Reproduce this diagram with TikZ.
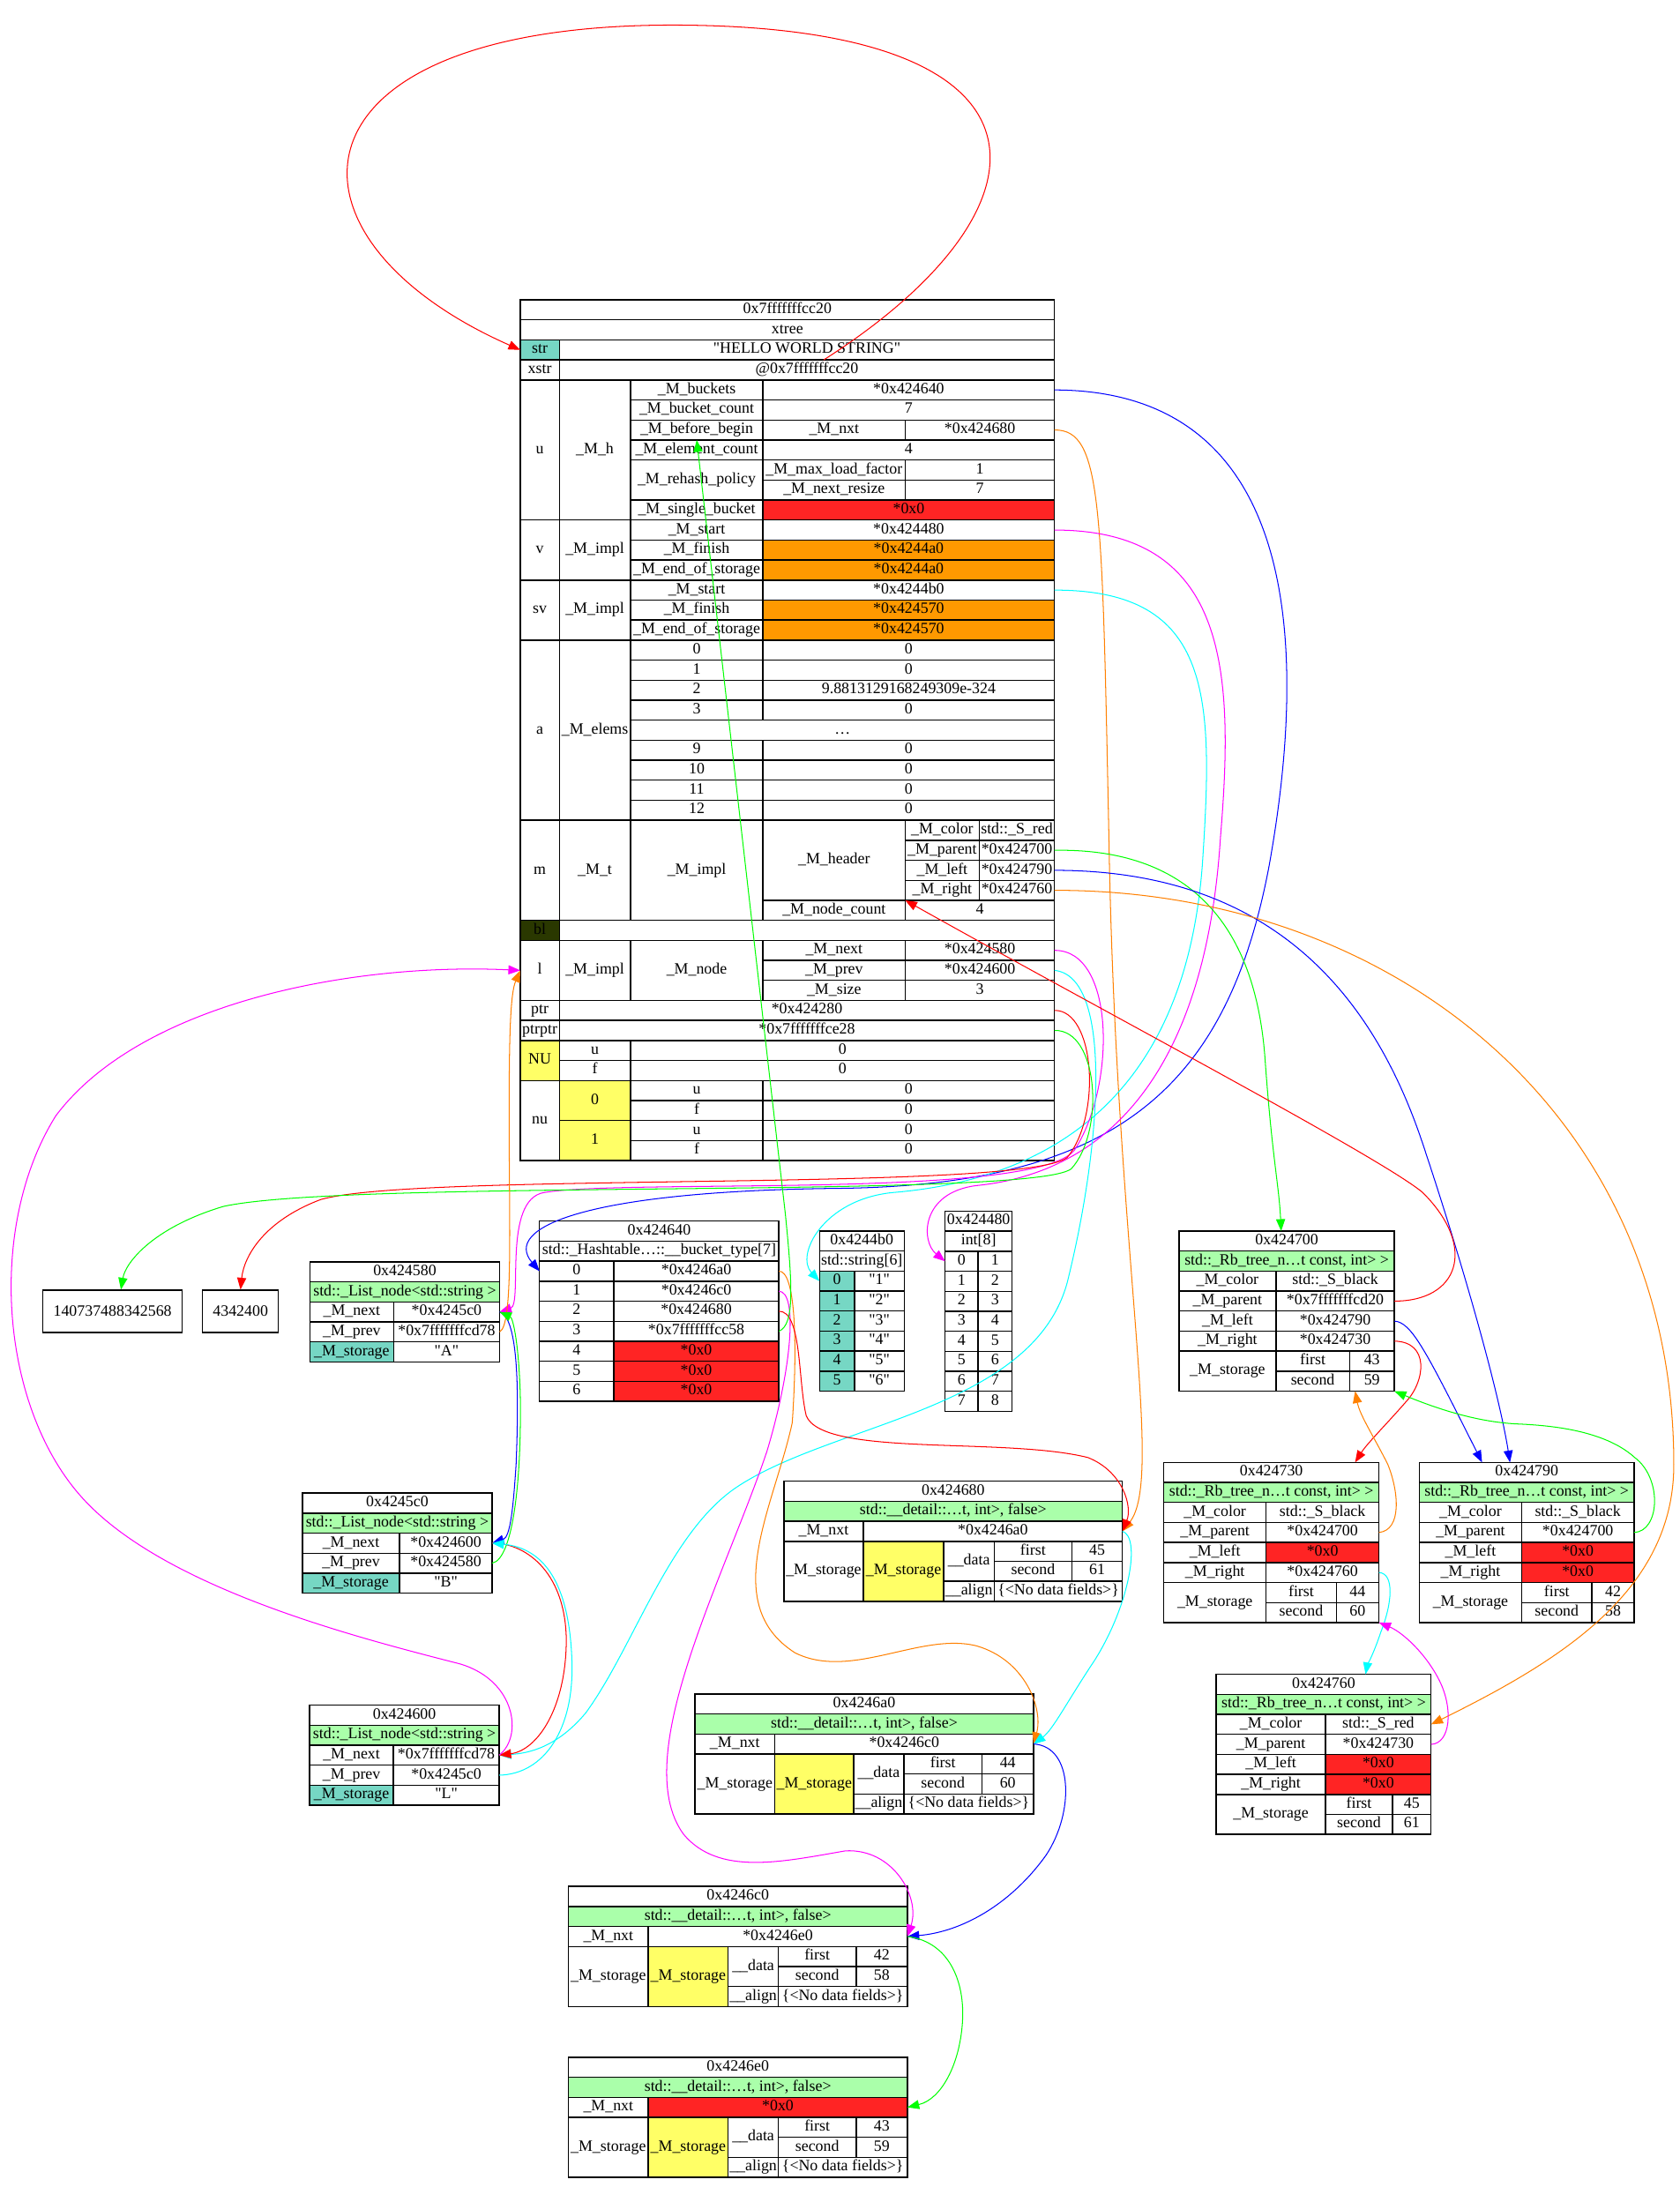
\documentclass[tikz,border=0pt]{standalone}
\usepackage{fontspec}
\setmainfont{Liberation Serif}[Ligatures=TeXOff]
\usetikzlibrary{arrows.meta}

\definecolor{keyteal}{RGB}{118,215,196}
\definecolor{typegreen}{RGB}{170,255,170}
\definecolor{nullred}{RGB}{255,36,36}
\definecolor{endorange}{RGB}{255,153,0}
\definecolor{unionyellow}{RGB}{255,255,102}
\definecolor{bitolive}{RGB}{42,56,0}
\definecolor{edgeorange}{RGB}{255,128,0}
\definecolor{edgemagenta}{RGB}{255,0,255}
\definecolor{edgecyan}{RGB}{0,255,255}
\definecolor{edgegreen}{RGB}{0,255,0}
\definecolor{edgered}{RGB}{255,0,0}
\definecolor{edgeblue}{RGB}{0,0,255}

\def\rowh{14.35}
\def\tabtop{0}
% 单元格: [样式]{名字}{x1}{x2}{行1}{行2}{文字}
\newcommand{\cell}[7][]{%
  \node[cellbox,#1,minimum width={(#4)-(#3)},minimum height={((#6)-(#5))*\rowh}]
    (#2) at ({((#3)+(#4))/2},{\tabtop+((#5)+(#6))/2*\rowh}) {#7};}
% 链表结点
\newcommand{\listnode}[9]{%
  \def\tabtop{#5}%
  \cell{#1h}{#2}{#4}{0}{1}{#6}
  \cell[typecell]{#1t}{#2}{#4}{1}{2}{std::\_List\_node<std::string >}
  \cell{#1nk}{#2}{#3}{2}{3}{\_M\_next}
  \cell{#1nv}{#3}{#4}{2}{3}{#7}
  \cell{#1pk}{#2}{#3}{3}{4}{\_M\_prev}
  \cell{#1pv}{#3}{#4}{3}{4}{#8}
  \cell[keycell]{#1sk}{#2}{#3}{4}{5}{\_M\_storage}
  \cell{#1sv}{#3}{#4}{4}{5}{#9}}
% 红黑树结点
\newcommand{\rbhead}[4]{%
  \cell{#1h}{\tcA}{\tcD}{0}{1}{#2}
  \cell[typecell]{#1t}{\tcA}{\tcD}{1}{2}{std::\_Rb\_tree\_n…t const, int> >}
  \cell{#1ck}{\tcA}{\tcB}{2}{3}{\_M\_color}
  \cell{#1cv}{\tcB}{\tcD}{2}{3}{#3}
  \cell{#1pk}{\tcA}{\tcB}{3}{4}{\_M\_parent}
  \cell{#1pv}{\tcB}{\tcD}{3}{4}{#4}}
\newcommand{\rbtail}[7]{%
  \cell{#1lk}{\tcA}{\tcB}{4}{5}{\_M\_left}
  \cell[#2]{#1lv}{\tcB}{\tcD}{4}{5}{#3}
  \cell{#1rk}{\tcA}{\tcB}{5}{6}{\_M\_right}
  \cell[#4]{#1rv}{\tcB}{\tcD}{5}{6}{#5}
  \cell{#1sk}{\tcA}{\tcB}{6}{8}{\_M\_storage}
  \cell{#1fk}{\tcB}{\tcC}{6}{7}{first}
  \cell{#1fv}{\tcC}{\tcD}{6}{7}{#6}
  \cell{#1gk}{\tcB}{\tcC}{7}{8}{second}
  \cell{#1gv}{\tcC}{\tcD}{7}{8}{#7}}
% 哈希结点
\newcommand{\hashnode}[7]{%
  \def\tabtop{#2}%
  \cell{#1h}{\tcA}{\tcF}{0}{1}{#3}
  \cell[typecell]{#1t}{\tcA}{\tcF}{1}{2}{std::\_\_detail::…t, int>, false>}
  \cell{#1nk}{\tcA}{\tcB}{2}{3}{\_M\_nxt}
  \cell[#4]{#1nv}{\tcB}{\tcF}{2}{3}{#5}
  \cell{#1sk}{\tcA}{\tcB}{3}{6}{\_M\_storage}
  \cell[unioncell]{#1su}{\tcB}{\tcC}{3}{6}{\_M\_storage}
  \cell{#1dk}{\tcC}{\tcD}{3}{5}{\_\_data}
  \cell{#1fk}{\tcD}{\tcE}{3}{4}{first}
  \cell{#1fv}{\tcE}{\tcF}{3}{4}{#6}
  \cell{#1gk}{\tcD}{\tcE}{4}{5}{second}
  \cell{#1gv}{\tcE}{\tcF}{4}{5}{#7}
  \cell{#1ak}{\tcC}{\tcD}{5}{6}{\_\_align}
  \cell{#1av}{\tcD}{\tcF}{5}{6}{\{<No data fields>\}}}

\begin{document}
\begin{tikzpicture}[x=1pt,y=-1pt,
    cellbox/.style={draw,line width=0.9pt,inner sep=0pt,outer sep=0pt,
      font=\fontsize{11.3}{13}\selectfont,text height=7.6pt,text depth=2.4pt},
    typecell/.style={fill=typegreen},
    keycell/.style={fill=keyteal},
    nullcell/.style={fill=nullred},
    endcell/.style={fill=endorange},
    unioncell/.style={fill=unionyellow},
    valbox/.style={draw,line width=0.9pt,inner sep=0pt,minimum height=30.3pt,
      font=\fontsize{11.3}{13}\selectfont},
    ptr/.style={line width=0.65pt,-{Triangle[length=8.5pt,width=6.5pt]}}]
    \path[use as bounding box,fill=white] (0,0) rectangle (1204,1568);

    % 主结构 0x7fffffffcc20
    \def\tabtop{215}
    \cell{xaddr}{373}{756}{0}{1}{0x7fffffffcc20}
    \cell{xtype}{373}{756}{1}{2}{xtree}
    \cell[keycell]{strk}{373}{401}{2}{3}{str}
    \cell{strv}{401}{756}{2}{3}{"HELLO WORLD STRING"}
    \cell{xstrk}{373}{401}{3}{4}{xstr}
    \cell{xstrv}{401}{756}{3}{4}{@0x7fffffffcc20}
    % u
    \cell{uk}{373}{401}{4}{11}{u}
    \cell{umh}{401}{452}{4}{11}{\_M\_h}
    \cell{ubk}{452}{547}{4}{5}{\_M\_buckets}
    \cell{ubv}{547}{756}{4}{5}{*0x424640}
    \cell{uck}{452}{547}{5}{6}{\_M\_bucket\_count}
    \cell{ucv}{547}{756}{5}{6}{7}
    \cell{ubbk}{452}{547}{6}{7}{\_M\_before\_begin}
    \cell{ubbn}{547}{649}{6}{7}{\_M\_nxt}
    \cell{ubbv}{649}{756}{6}{7}{*0x424680}
    \cell{uek}{452}{547}{7}{8}{\_M\_element\_count}
    \cell{uev}{547}{756}{7}{8}{4}
    \cell{urk}{452}{547}{8}{10}{\_M\_rehash\_policy}
    \cell{urmk}{547}{649}{8}{9}{\_M\_max\_load\_factor}
    \cell{urmv}{649}{756}{8}{9}{1}
    \cell{urnk}{547}{649}{9}{10}{\_M\_next\_resize}
    \cell{urnv}{649}{756}{9}{10}{7}
    \cell{usk}{452}{547}{10}{11}{\_M\_single\_bucket}
    \cell[nullcell]{usv}{547}{756}{10}{11}{*0x0}
    % v
    \cell{vk}{373}{401}{11}{14}{v}
    \cell{vimpl}{401}{452}{11}{14}{\_M\_impl}
    \cell{vsk}{452}{547}{11}{12}{\_M\_start}
    \cell{vsv}{547}{756}{11}{12}{*0x424480}
    \cell{vfk}{452}{547}{12}{13}{\_M\_finish}
    \cell[endcell]{vfv}{547}{756}{12}{13}{*0x4244a0}
    \cell{vek}{452}{547}{13}{14}{\_M\_end\_of\_storage}
    \cell[endcell]{vev}{547}{756}{13}{14}{*0x4244a0}
    % sv
    \cell{svk}{373}{401}{14}{17}{sv}
    \cell{svimpl}{401}{452}{14}{17}{\_M\_impl}
    \cell{svsk}{452}{547}{14}{15}{\_M\_start}
    \cell{svsv}{547}{756}{14}{15}{*0x4244b0}
    \cell{svfk}{452}{547}{15}{16}{\_M\_finish}
    \cell[endcell]{svfv}{547}{756}{15}{16}{*0x424570}
    \cell{svek}{452}{547}{16}{17}{\_M\_end\_of\_storage}
    \cell[endcell]{svev}{547}{756}{16}{17}{*0x424570}
    % a
    \cell{ak}{373}{401}{17}{26}{a}
    \cell{aelems}{401}{452}{17}{26}{\_M\_elems}
    \foreach \i/\v [count=\r from 17] in {0/0,1/0,2/9.8813129168249309e-324,3/0} {
      \cell{aik\i}{452}{547}{\r}{\r+1}{\i}
      \cell{aiv\i}{547}{756}{\r}{\r+1}{\v}
    }
    \cell{adots}{452}{756}{21}{22}{…}
    \foreach \i/\r in {9/22,10/23,11/24,12/25} {
      \cell{aik\i}{452}{547}{\r}{\r+1}{\i}
      \cell{aiv\i}{547}{756}{\r}{\r+1}{0}
    }
    % m
    \cell{mk}{373}{401}{26}{31}{m}
    \cell{mt}{401}{452}{26}{31}{\_M\_t}
    \cell{mimpl}{452}{547}{26}{31}{\_M\_impl}
    \cell{mhdr}{547}{649}{26}{30}{\_M\_header}
    \cell{mck}{649}{702}{26}{27}{\_M\_color}
    \cell{mcv}{702}{756}{26}{27}{std::\_S\_red}
    \cell{mpk}{649}{702}{27}{28}{\_M\_parent}
    \cell{mpv}{702}{756}{27}{28}{*0x424700}
    \cell{mlk}{649}{702}{28}{29}{\_M\_left}
    \cell{mlv}{702}{756}{28}{29}{*0x424790}
    \cell{mrk}{649}{702}{29}{30}{\_M\_right}
    \cell{mrv}{702}{756}{29}{30}{*0x424760}
    \cell{mnk}{547}{649}{30}{31}{\_M\_node\_count}
    \cell{mnv}{649}{756}{30}{31}{4}
    % bl
    \cell[fill=bitolive]{blk}{373}{401}{31}{32}{bl}
    \cell{blv}{401}{756}{31}{32}{}
    % l
    \cell{lk}{373}{401}{32}{35}{l}
    \cell{limpl}{401}{452}{32}{35}{\_M\_impl}
    \cell{lnode}{452}{547}{32}{35}{\_M\_node}
    \cell{lnk}{547}{649}{32}{33}{\_M\_next}
    \cell{lnv}{649}{756}{32}{33}{*0x424580}
    \cell{lpk}{547}{649}{33}{34}{\_M\_prev}
    \cell{lpv}{649}{756}{33}{34}{*0x424600}
    \cell{lsk}{547}{649}{34}{35}{\_M\_size}
    \cell{lsv}{649}{756}{34}{35}{3}
    % ptr
    \cell{ptrk}{373}{401}{35}{36}{ptr}
    \cell{ptrv}{401}{756}{35}{36}{*0x424280}
    \cell{pptrk}{373}{401}{36}{37}{ptrptr}
    \cell{pptrv}{401}{756}{36}{37}{*0x7fffffffce28}
    % NU / nu
    \cell[unioncell]{NUk}{373}{401}{37}{39}{NU}
    \cell{NUuk}{401}{452}{37}{38}{u}
    \cell{NUuv}{452}{756}{37}{38}{0}
    \cell{NUfk}{401}{452}{38}{39}{f}
    \cell{NUfv}{452}{756}{38}{39}{0}
    \cell{nuk}{373}{401}{39}{43}{nu}
    \foreach \n/\r in {0/39,1/41} {
      \cell[unioncell]{nuidx\n}{401}{452}{\r}{\r+2}{\n}
      \cell{nuuk\n}{452}{547}{\r}{\r+1}{u}
      \cell{nuuv\n}{547}{756}{\r}{\r+1}{0}
      \cell{nufk\n}{452}{547}{\r+1}{\r+2}{f}
      \cell{nufv\n}{547}{756}{\r+1}{\r+2}{0}
    }

    % 指针指向的数值
    \node[valbox,minimum width=100pt] (n140737488342568) at (80.7,940.2) {140737488342568};
    \node[valbox,minimum width=54.4pt] (n4342400) at (172.4,940.2) {4342400};

    % 桶数组 0x424640
    \def\tabtop{875.5}
    \cell{n424640h}{386.8}{558.4}{0}{1}{0x424640}
    \cell{n424640t}{386.8}{558.4}{1}{2}{std::\_Hashtable…::\_\_bucket\_type[7]}
    \foreach \i/\v in {0/*0x4246a0,1/*0x4246c0,2/*0x424680,3/*0x7fffffffcc58} {
      \cell{bkt\i}{386.8}{440}{\i+2}{\i+3}{\i}
      \cell{bptr\i}{440}{558.4}{\i+2}{\i+3}{\v}
    }
    \foreach \i in {4,5,6} {
      \cell{bkt\i}{386.8}{440}{\i+2}{\i+3}{\i}
      \cell[nullcell]{bptr\i}{440}{558.4}{\i+2}{\i+3}{*0x0}
    }
    % 字符串数组 0x4244b0
    \def\tabtop{882.6}
    \cell{n4244b0h}{587.5}{648.2}{0}{1}{0x4244b0}
    \cell{n4244b0t}{587.5}{648.2}{1}{2}{std::string[6]}
    \foreach \i [count=\n] in {0,...,5} {
      \cell[keycell]{stk\i}{587.5}{612.6}{\i+2}{\i+3}{\i}
      \cell{stv\i}{612.6}{648.2}{\i+2}{\i+3}{"\n"}
    }
    % 整数数组 0x424480
    \def\tabtop{868.4}
    \cell{n424480h}{677.6}{725.6}{0}{1}{0x424480}
    \cell{n424480t}{677.6}{725.6}{1}{2}{int[8]}
    \foreach \i [count=\n] in {0,...,7} {
      \cell{ik\i}{677.6}{701.2}{\i+2}{\i+3}{\i}
      \cell{iv\i}{701.2}{725.6}{\i+2}{\i+3}{\n}
    }

    % 链表
    \listnode{n424580}{222.2}{282.2}{358.2}{904.7}{0x424580}{*0x4245c0}{*0x7fffffffcd78}{"A"}
    \listnode{n4245c0}{216.8}{286.5}{352.8}{1070.5}{0x4245c0}{*0x424600}{*0x424580}{"B"}
    \listnode{n424600}{222}{282}{357.9}{1222.5}{0x424600}{*0x7fffffffcd78}{*0x4245c0}{"L"}

    % 哈希表结点
    \def\tcA{562}\def\tcB{619}\def\tcC{676.5}\def\tcD{712.8}\def\tcE{768.4}\def\tcF{804.7}
    \hashnode{n424680}{1062}{0x424680}{}{*0x4246a0}{45}{61}
    \def\tcA{498.2}\def\tcB{555.5}\def\tcC{612}\def\tcD{648}\def\tcE{704}\def\tcF{741}
    \hashnode{n4246a0}{1214.5}{0x4246a0}{}{*0x4246c0}{44}{60}
    \def\tcA{407.5}\def\tcB{464.8}\def\tcC{522}\def\tcD{558}\def\tcE{613.8}\def\tcF{650.5}
    \hashnode{n4246c0}{1352.5}{0x4246c0}{}{*0x4246e0}{42}{58}
    \hashnode{n4246e0}{1475}{0x4246e0}{nullcell}{*0x0}{43}{59}

    % 红黑树结点
    \def\tcA{845.3}\def\tcB{914.8}\def\tcC{967.5}\def\tcD{999.7}\def\tabtop{882.6}
    \rbhead{n424700}{0x424700}{std::\_S\_black}{*0x7fffffffcd20}
    \rbtail{n424700}{}{*0x424790}{}{*0x424730}{43}{59}
    \def\tcA{834.4}\def\tcB{907.7}\def\tcC{958}\def\tcD{988.6}\def\tabtop{1048.5}
    \rbhead{n424730}{0x424730}{std::\_S\_black}{*0x424700}
    \rbtail{n424730}{nullcell}{*0x0}{}{*0x424760}{44}{60}
    \def\tcA{1017.6}\def\tcB{1090.9}\def\tcC{1141.3}\def\tcD{1171.5}\def\tabtop{1048.5}
    \rbhead{n424790}{0x424790}{std::\_S\_black}{*0x424700}
    \rbtail{n424790}{nullcell}{*0x0}{nullcell}{*0x0}{42}{58}
    \def\tcA{872}\def\tcB{950.3}\def\tcC{998.3}\def\tcD{1026}\def\tabtop{1200.4}
    \rbhead{n424760}{0x424760}{std::\_S\_red}{*0x424730}
    \rbtail{n424760}{nullcell}{*0x0}{nullcell}{*0x0}{45}{61}

    % 主结构的指针
    \draw[ptr,edgered] ([xshift=12pt]xstrv.north) .. controls (760,150) and (770,18) .. (482,18)
      .. controls (200,18) and (190,170) .. (strk.west);
    \draw[ptr,edgeblue] (ubv.east) .. controls (940,280) and (935,480) .. (910,620)
      .. controls (880,780) and (800,850) .. (600,852) .. controls (420,854) and (360,880) .. (bkt0.west);
    \draw[ptr,edgeorange] (ubbv.east) .. controls (790,308) and (790,360) .. (795,600)
      .. controls (800,900) and (835,1060) .. (n424680nv.east);
    \draw[ptr,edgemagenta] (vsv.east) .. controls (880,380) and (885,480) .. (875,600)
      .. controls (865,760) and (800,840) .. (700,850) .. controls (660,855) and (660,890) .. (ik0.west);
    \draw[ptr,edgecyan] (svsv.east) .. controls (870,423) and (870,500) .. (862,620)
      .. controls (850,780) and (760,845) .. (640,855) .. controls (590,860) and (570,900) .. (stk0.west);
    \draw[ptr,edgegreen] (mpv.east) .. controls (850,608) and (900,660) .. (907,760)
      .. controls (912,830) and (917,850) .. ([xshift=-4pt]n424700h.north);
    \draw[ptr,edgeblue] (mlv.east) .. controls (900,624) and (980,700) .. (1020,820)
      .. controls (1050,910) and (1075,1000) .. ([xshift=-12pt]n424790h.north);
    \draw[ptr,edgeorange] (mrv.east) .. controls (1000,638) and (1200,800) .. (1200,1050)
      .. controls (1200,1140) and (1120,1190) .. (n424760cv.east);
    \draw[ptr,edgemagenta] (lnv.east) .. controls (800,681) and (800,780) .. (770,825)
      .. controls (740,860) and (450,845) .. (390,855) .. controls (360,860) and (375,935) .. (n424580nv.east);
    \draw[ptr,edgecyan] (lpv.east) .. controls (798,700) and (790,820) .. (765,920)
      .. controls (740,1010) and (600,1020) .. (530,1065) .. controls (480,1097) and (455,1180) .. (420,1228)
      .. controls (400,1252) and (380,1257) .. (n424600nv.east);
    \draw[ptr,edgered] (ptrv.east) .. controls (785,724) and (790,800) .. (765,830)
      .. controls (730,855) and (300,840) .. (230,860) .. controls (190,875) and (175,900) .. (n4342400.north);
    \draw[ptr,edgegreen] (pptrv.east) .. controls (788,738) and (792,812) .. (768,838)
      .. controls (740,860) and (250,845) .. (160,865) .. controls (110,880) and (90,905) .. ([xshift=6pt]n140737488342568.north);

    % 桶的指针
    \draw[ptr,edgeorange] (bptr0.east) .. controls (570,911) and (572,960) .. (568,1020)
      .. controls (555,1080) and (515,1150) .. (570,1185) .. controls (610,1205) and (660,1170) .. (700,1180)
      .. controls (735,1190) and (748,1225) .. (n4246a0nv.east);
    \draw[ptr,edgemagenta] (bptr1.east) .. controls (572,926) and (568,980) .. (550,1040)
      .. controls (520,1130) and (450,1260) .. (490,1315) .. controls (515,1345) and (560,1335) .. (606,1327)
      .. controls (640,1325) and (660,1360) .. (n4246c0nv.east);
    \draw[ptr,edgered] (bptr2.east) .. controls (575,940) and (572,990) .. (578,1015)
      .. controls (590,1045) and (720,1030) .. (780,1045) .. controls (805,1055) and (812,1080) .. (n424680nv.east);
    \draw[ptr,edgegreen] (bptr3.east) .. controls (570,950) and (568,920) .. (563,870) -- (ubbk.south);

    % 链表的指针
    \draw[ptr,edgeblue] (n424580nv.east) .. controls (372,945) and (372,1000) .. (370,1050)
      .. controls (368,1080) and (366,1102) .. (n4245c0nv.east);
    \draw[ptr,edgeorange] (n424580pv.east) .. controls (368,950) and (365,880) .. (365,800)
      .. controls (365,740) and (366,712) .. (lk.west);
    \draw[ptr,edgered] (n4245c0nv.east) .. controls (375,1106) and (405,1125) .. (406,1175)
      .. controls (406,1225) and (385,1255) .. (n424600nv.east);
    \draw[ptr,edgegreen] (n4245c0pv.east) .. controls (368,1118) and (374,1060) .. (373,1000)
      .. controls (372,965) and (368,945) .. (n424580nv.east);
    \draw[ptr,edgemagenta] (n424600nv.east) .. controls (375,1245) and (370,1205) .. (330,1193)
      .. controls (260,1175) and (120,1140) .. (60,1075) .. controls (0,1010) and (-10,880) .. (40,800)
      .. controls (100,720) and (250,690) .. (lk.west);
    \draw[ptr,edgecyan] (n424600pv.east) .. controls (390,1272) and (412,1240) .. (410,1190)
      .. controls (408,1135) and (390,1110) .. (n4245c0nv.east);

    % 哈希结点的指针
    \draw[ptr,edgecyan] (n424680nv.east) .. controls (818,1102) and (810,1150) .. (785,1190)
      .. controls (765,1220) and (755,1240) .. (n4246a0nv.east);
    \draw[ptr,edgeblue] (n4246a0nv.east) .. controls (770,1252) and (770,1300) .. (750,1330)
      .. controls (725,1365) and (690,1385) .. (n4246c0nv.east);
    \draw[ptr,edgegreen] (n4246c0nv.east) .. controls (680,1392) and (692,1420) .. (690,1450)
      .. controls (688,1480) and (675,1505) .. (n4246e0nv.east);

    % 红黑树的指针
    \draw[ptr,edgered] (n424700pv.east) .. controls (1045,933) and (1060,895) .. (1020,855)
      .. controls (990,830) and (800,730) .. (mhdr.south east);
    \draw[ptr,edgeblue] (n424700lv.east) .. controls (1012,948) and (1022,968) .. ([xshift=-32pt]n424790h.north);
    \draw[ptr,edgered] (n424700rv.east) .. controls (1025,962) and (1022,990) .. (1008,1005)
      .. controls (995,1020) and (980,1035) .. ([xshift=60pt]n424730h.north);
    \draw[ptr,edgeorange] (n424730pv.east) .. controls (1005,1097) and (1003,1070) .. (995,1050)
      .. controls (985,1030) and (975,1015) .. ([xshift=4pt]n424700gv.south west);
    \draw[ptr,edgecyan] (n424730rv.east) .. controls (1000,1128) and (998,1150) .. (990,1170)
      .. controls (985,1185) and (980,1195) .. ([xshift=30pt]n424760h.north);
    \draw[ptr,edgegreen] (n424790pv.east) .. controls (1190,1098) and (1192,1060) .. (1172,1045)
      .. controls (1150,1025) and (1110,1022) .. (1090,1021) .. controls (1060,1020) and (1030,1010) .. (n424700gv.south east);
    \draw[ptr,edgemagenta] (n424760pv.east) .. controls (1040,1250) and (1042,1225) .. (1032,1205)
      .. controls (1022,1185) and (1005,1170) .. (n424730gv.south east);
\end{tikzpicture}
\end{document}
